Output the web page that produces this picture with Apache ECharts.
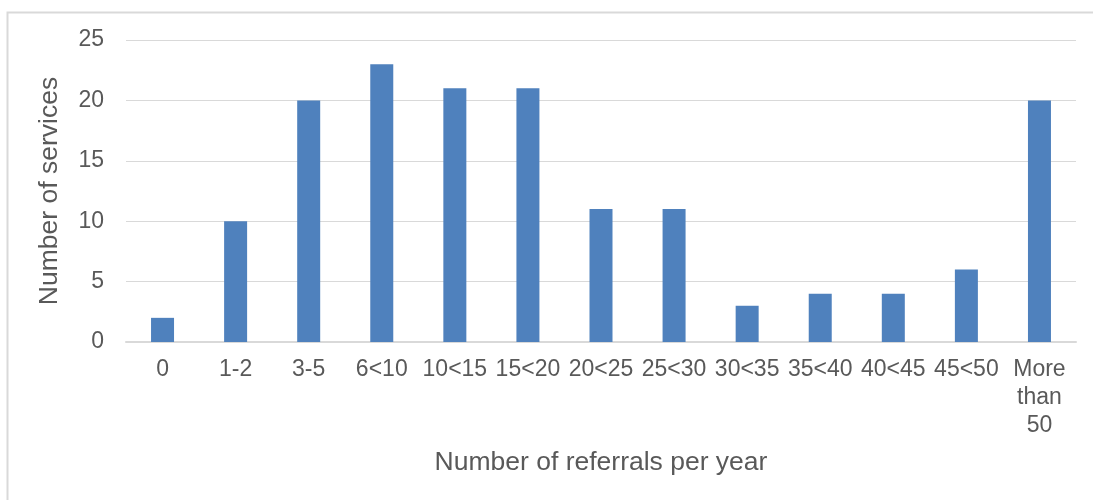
<!DOCTYPE html>
<html>
<head>
<meta charset="utf-8">
<script src="https://cdn.jsdelivr.net/npm/echarts@6/dist/echarts.min.js"></script>
<style>
  html, body { margin: 0; padding: 0; background: #fff; }
  #chart { width: 1093px; height: 500px; }
</style>
</head>
<body>
<div id="chart"></div>
<script>
// Referral bands and number of services in each
const categories = ['0', '1-2', '3-5', '6<10', '10<15', '15<20', '20<25', '25<30', '30<35', '35<40', '40<45', '45<50', 'More\nthan\n50'];
const services = [2, 10, 20, 23, 21, 21, 11, 11, 3, 4, 4, 6, 20];
const yTicks = { min: 0, max: 25, interval: 5 };

const chart = echarts.init(document.getElementById('chart'), null, { renderer: 'canvas' });
const font = 'Liberation Sans, Arial, sans-serif';

chart.setOption({
  animation: false,
  backgroundColor: '#ffffff',
  graphic: [{
    type: 'rect',
    left: 5, top: 10,
    shape: { width: 1100, height: 500 },
    style: { fill: 'none', stroke: '#d9d9d9', lineWidth: 2 },
    silent: true
  }],
  grid: { left: 126, right: 17, top: 40, bottom: 158 },
  xAxis: {
    type: 'category',
    data: categories,
    name: 'Number of referrals per year',
    nameLocation: 'middle',
    nameGap: 107,
    nameTextStyle: { fontFamily: font, fontSize: 26.5, color: '#595959' },
    axisLine: { lineStyle: { color: '#d9d9d9', width: 2 } },
    axisTick: { show: false },
    axisLabel: {
      interval: 0, margin: 14, fontFamily: font, fontSize: 23,
      color: '#595959', lineHeight: 28
    }
  },
  yAxis: {
    type: 'value',
    min: yTicks.min, max: yTicks.max, interval: yTicks.interval,
    name: 'Number of services',
    nameLocation: 'middle',
    nameGap: 63,
    nameTextStyle: { fontFamily: font, fontSize: 26.5, color: '#595959' },
    axisLine: { show: false },
    axisTick: { show: false },
    axisLabel: { margin: 22, fontFamily: font, fontSize: 23, color: '#595959' },
    splitLine: { lineStyle: { color: '#d9d9d9', width: 1 } }
  },
  series: [{
    type: 'bar',
    data: services,
    barWidth: 23,
    itemStyle: { color: '#4f81bd' }
  }]
});
</script>
</body>
</html>
